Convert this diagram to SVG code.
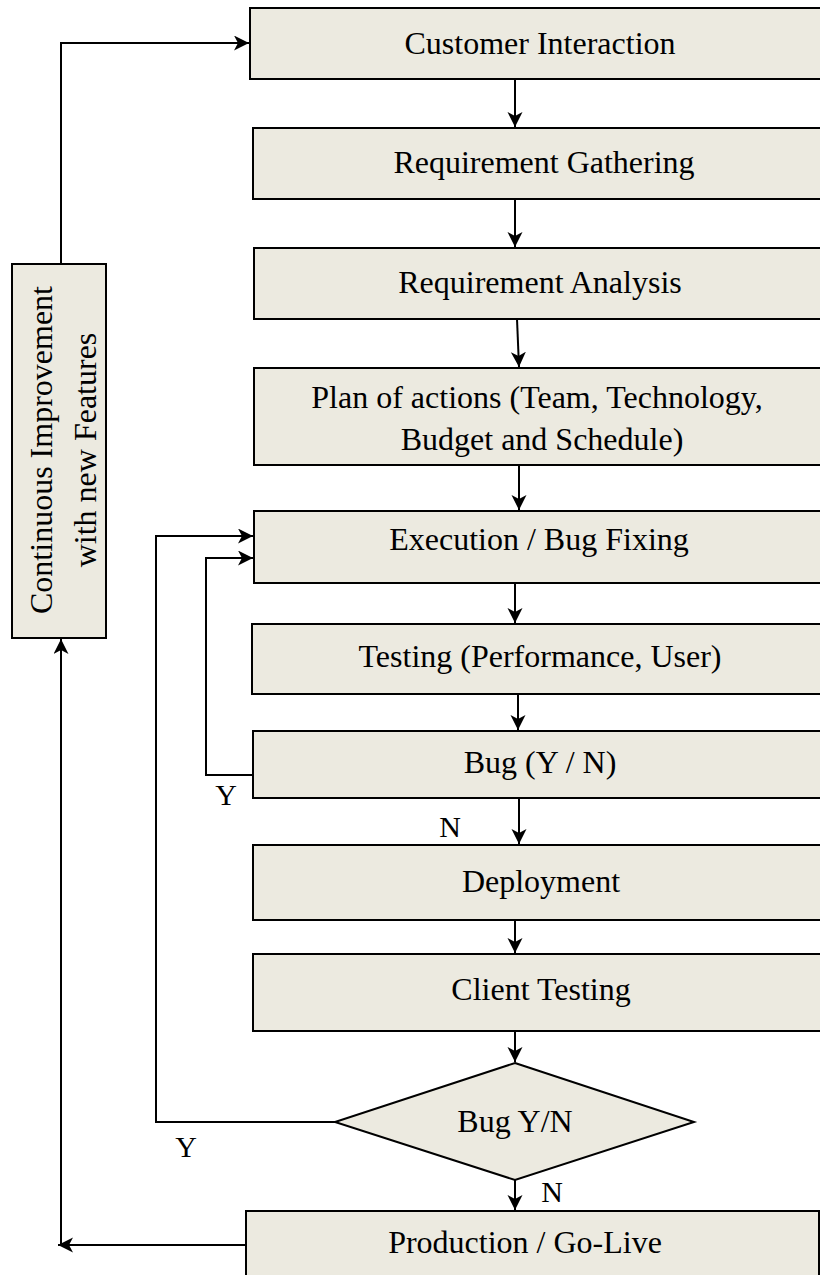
<svg xmlns="http://www.w3.org/2000/svg" width="820" height="1275" viewBox="0 0 820 1275">
<style>
.box{fill:#ECEAE0;stroke:#000;stroke-width:2}
.t{font-family:"Liberation Serif","Times New Roman",serif;font-size:32px;fill:#000;text-anchor:middle}
.lbl{font-family:"Liberation Serif","Times New Roman",serif;font-size:30px;fill:#000;text-anchor:middle}
.c{fill:none;stroke:#000;stroke-width:2}
</style>
<defs>
<marker id="ah" markerUnits="userSpaceOnUse" markerWidth="16" markerHeight="16" refX="15" refY="7.5" orient="auto">
<path d="M0,0 L15,7.5 L0,15 L4,7.5 z" fill="#000"/>
</marker>
</defs>
<rect width="820" height="1275" fill="#fff"/>
<g id="n-ci"><rect class="box" x="250" y="8" width="590" height="71"/><text class="t" x="540" y="54">Customer Interaction</text></g>
<g id="n-rg"><rect class="box" x="253" y="128" width="590" height="71"/><text class="t" x="544" y="173">Requirement Gathering</text></g>
<g id="n-ra"><rect class="box" x="254" y="248" width="590" height="71"/><text class="t" x="540" y="293">Requirement Analysis</text></g>
<g id="n-plan"><rect class="box" x="254" y="368" width="590" height="97"/><text class="t" x="537" y="408">Plan of actions (Team, Technology,</text><text class="t" x="542" y="450">Budget and Schedule)</text></g>
<g id="n-exec"><rect class="box" x="254" y="511" width="590" height="72"/><text class="t" x="539" y="550">Execution / Bug Fixing</text></g>
<g id="n-test"><rect class="box" x="252" y="624" width="590" height="70"/><text class="t" x="540" y="667">Testing (Performance, User)</text></g>
<g id="n-bug1"><rect class="box" x="253" y="731" width="590" height="67"/><text class="t" x="540" y="773">Bug (Y / N)</text></g>
<g id="n-dep"><rect class="box" x="253" y="845" width="590" height="75"/><text class="t" x="541" y="892">Deployment</text></g>
<g id="n-ct"><rect class="box" x="253" y="954" width="590" height="77"/><text class="t" x="541" y="1000">Client Testing</text></g>
<g id="n-bug2"><polygon class="box" points="515,1063 694,1122 515,1180 335,1122"/><text class="t" x="515" y="1132">Bug Y/N</text></g>
<g id="n-prod"><rect class="box" x="246" y="1211" width="573" height="80"/><text class="t" x="525" y="1253">Production / Go-Live</text></g>
<g id="n-ci2"><rect class="box" x="12" y="264" width="94" height="374"/><text class="t" transform="translate(52,450) rotate(-90)">Continuous Improvement</text><text class="t" transform="translate(96,450) rotate(-90)">with new Features</text></g>
<g id="connectors">
<polyline class="c" points="61,264 61,43 249,43" marker-end="url(#ah)"/>
<line class="c" x1="515" y1="79" x2="515" y2="127" marker-end="url(#ah)"/>
<line class="c" x1="515" y1="199" x2="515" y2="247" marker-end="url(#ah)"/>
<line class="c" x1="517" y1="319" x2="519" y2="367" marker-end="url(#ah)"/>
<line class="c" x1="519" y1="465" x2="519" y2="510" marker-end="url(#ah)"/>
<line class="c" x1="515" y1="583" x2="515" y2="623" marker-end="url(#ah)"/>
<line class="c" x1="518" y1="694" x2="518" y2="730" marker-end="url(#ah)"/>
<line class="c" x1="519" y1="798" x2="519" y2="844" marker-end="url(#ah)"/>
<line class="c" x1="515" y1="920" x2="515" y2="953" marker-end="url(#ah)"/>
<line class="c" x1="515" y1="1031" x2="515" y2="1062" marker-end="url(#ah)"/>
<line class="c" x1="515" y1="1180" x2="515" y2="1210" marker-end="url(#ah)"/>
<polyline class="c" points="253,775 206,775 206,558 253,558" marker-end="url(#ah)"/>
<polyline class="c" points="335,1122 156,1122 156,536 253,536" marker-end="url(#ah)"/>
<line class="c" x1="246" y1="1245" x2="58" y2="1245" marker-end="url(#ah)"/>
<line class="c" x1="61" y1="1245" x2="61" y2="639" marker-end="url(#ah)"/>
<text class="lbl" x="226" y="805">Y</text>
<text class="lbl" x="450" y="837">N</text>
<text class="lbl" x="186" y="1157">Y</text>
<text class="lbl" x="552" y="1202">N</text>
</g>
</svg>
